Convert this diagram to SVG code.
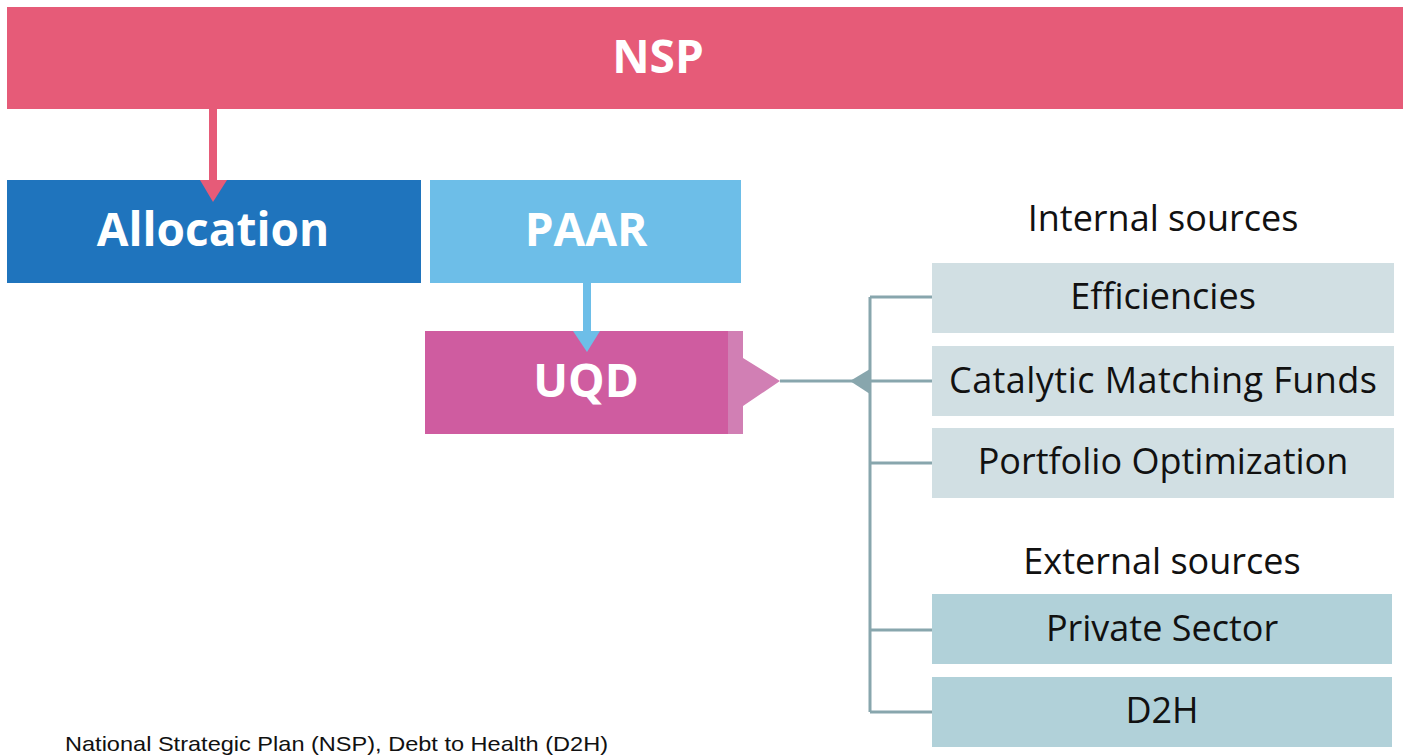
<svg xmlns="http://www.w3.org/2000/svg" width="1407" height="756" viewBox="0 0 1407 756">
<style>
.big{font-family:"Open Sans","Noto Sans",sans-serif;font-weight:bold;font-size:46px;fill:#fff;text-anchor:middle}
.lbl{font-family:"Open Sans","Noto Sans",sans-serif;font-size:36px;fill:#111;text-anchor:middle}
.conn{stroke:#88A6AD;stroke-width:3;fill:none}
.int{fill:#D1DFE3}
.ext{fill:#B1D1D9}
</style>
<rect width="1407" height="756" fill="#fff"/>
<g id="nsp"><rect x="7" y="7" width="1396" height="102" fill="#E65B78"/><text class="big" x="658" y="73">NSP</text></g>
<g id="allocation"><rect x="7" y="180" width="414" height="103" fill="#1F74BD"/><text class="big" x="213" y="246">Allocation</text></g>
<g id="paar"><rect x="430" y="180" width="311" height="103" fill="#6DBEE8"/><text class="big" x="586" y="246">PAAR</text></g>
<g id="uqd"><rect x="425" y="331" width="304" height="103" fill="#CF5CA0"/><path d="M728 331H743V358L780 381L743 406V434H728Z" fill="#D17FB4"/><text class="big" x="586" y="397">UQD</text></g>
<g id="internal-label"><text class="lbl" x="1163" y="231">Internal sources</text></g>
<g id="efficiencies"><rect class="int" x="932" y="263" width="462" height="70"/><text class="lbl" x="1163" y="309">Efficiencies</text></g>
<g id="catalytic"><rect class="int" x="932" y="346" width="462" height="70"/><text class="lbl" x="1163" y="393" textLength="428" lengthAdjust="spacing">Catalytic Matching Funds</text></g>
<g id="portfolio"><rect class="int" x="932" y="428" width="462" height="70"/><text class="lbl" x="1163" y="474">Portfolio Optimization</text></g>
<g id="external-label"><text class="lbl" x="1162" y="574">External sources</text></g>
<g id="private"><rect class="ext" x="932" y="594" width="460" height="70"/><text class="lbl" x="1162" y="641">Private Sector</text></g>
<g id="d2h"><rect class="ext" x="932" y="677" width="460" height="70"/><text class="lbl" x="1162" y="723">D2H</text></g>
<g id="connectors">
<rect x="209" y="109" width="8" height="72" fill="#E65B78"/><path d="M200 180H227L213 202Z" fill="#E65B78"/>
<rect x="583" y="283" width="8" height="49" fill="#6DBEE8"/><path d="M573 331H600L587 352Z" fill="#6DBEE8"/>
<path class="conn" d="M780 381H932M870 297V712M870 297H932M870 463H932M870 630H932M870 712H932"/>
<path d="M850 381L870 369V394Z" fill="#88A6AD"/>
</g>
<text x="65" y="751" font-family="'Liberation Sans',sans-serif" font-size="21" fill="#111" textLength="543" lengthAdjust="spacingAndGlyphs">National Strategic Plan (NSP), Debt to Health (D2H)</text>
</svg>
